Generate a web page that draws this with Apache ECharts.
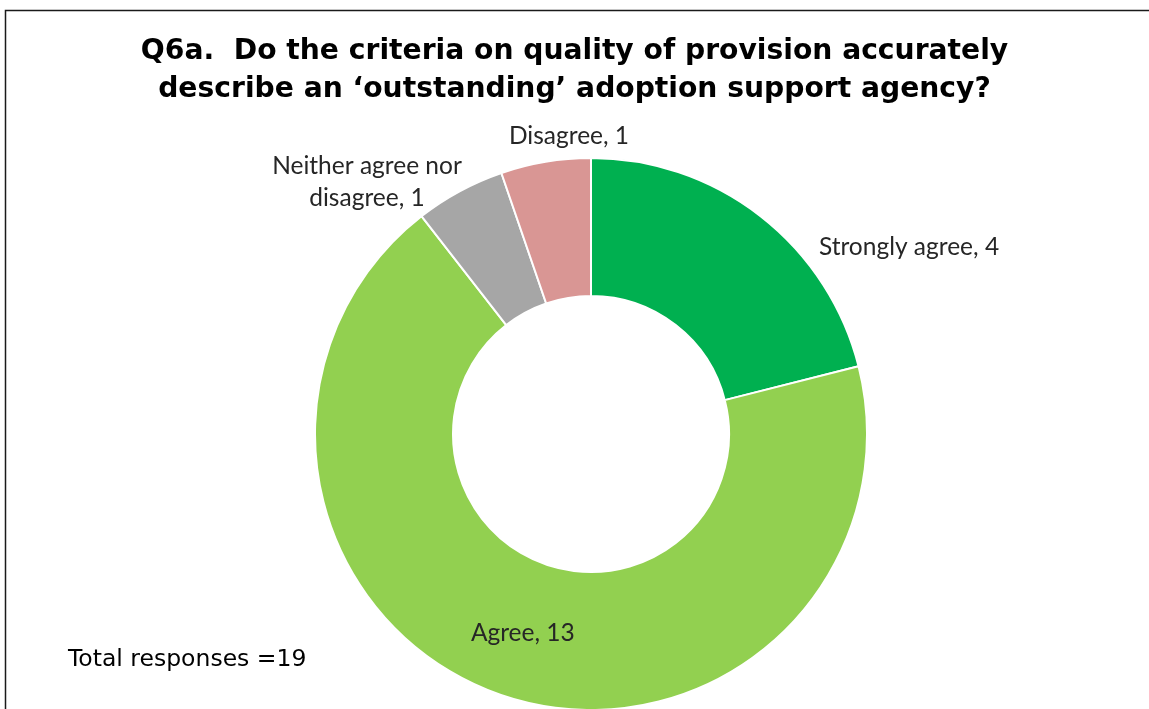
<!DOCTYPE html>
<html>
<head>
<meta charset="utf-8">
<script src="https://cdn.jsdelivr.net/npm/echarts@6/dist/echarts.min.js"></script>
<style>
  html, body { margin: 0; padding: 0; background: #fff; }
  #chart { width: 1149px; height: 709px; }
</style>
</head>
<body>
<div id="chart"></div>
<script>
// Survey answers, clockwise from the top of the ring
var categories = ['Strongly agree', 'Agree', 'Neither agree nor\ndisagree', 'Disagree'];
var counts = [4, 13, 1, 1];
var colors = ['#00B050', '#92D050', '#A6A6A6', '#D99694'];
var titleLines = ['Q6a.  Do the criteria on quality of provision accurately',
                  'describe an \u2018outstanding\u2019 adoption support agency?'];
var totalText = 'Total responses =' + counts.reduce(function (a, b) { return a + b; }, 0);

// Where the outside labels sit (label centre, px)
var labelSpots = {
  'Strongly agree': [909, 247],
  'Neither agree nor\ndisagree': [367, 182],
  'Disagree': [569, 136]
};

var chart = echarts.init(document.getElementById('chart'), null, { renderer: 'canvas' });

var data = categories.map(function (c, i) {
  return {
    name: c,
    value: counts[i],
    itemStyle: { color: colors[i] },
    label: { position: c === 'Agree' ? 'inside' : 'outside' }
  };
});

chart.setOption({
  animation: false,
  backgroundColor: '#ffffff',
  title: [
    {
      text: titleLines.join('\n'),
      left: 'center',
      top: 28,
      textStyle: {
        fontFamily: 'DejaVu Sans',
        fontWeight: 'bold',
        fontSize: 28.2,
        lineHeight: 38,
        color: '#000'
      }
    },
    {
      text: totalText,
      left: 63,
      top: 643,
      textStyle: {
        fontFamily: 'DejaVu Sans',
        fontWeight: 'normal',
        fontSize: 23.5,
        color: '#000'
      }
    }
  ],
  graphic: [
    {
      type: 'polyline',
      shape: { points: [[5.5, 760], [5.5, 10.5], [1200, 10.5]] },
      style: { stroke: '#1a1a1a', lineWidth: 1.5, fill: null },
      silent: true
    }
  ],
  series: [
    {
      type: 'pie',
      center: [591, 434],
      radius: [138, 276],
      startAngle: 90,
      clockwise: true,
      avoidLabelOverlap: false,
      itemStyle: { borderColor: '#ffffff', borderWidth: 2 },
      label: {
        show: true,
        formatter: '{b}, {c}',
        fontFamily: 'Lato',
        fontSize: 24.5,
        lineHeight: 32,
        color: '#262626',
        align: 'center'
      },
      labelLine: { show: false },
      labelLayout: function (params) {
        var name = categories[params.dataIndex];
        var spot = labelSpots[name];
        if (!spot) return {};
        return { x: spot[0], y: spot[1], align: 'center', verticalAlign: 'middle' };
      },
      data: data
    }
  ]
});
</script>
</body>
</html>
